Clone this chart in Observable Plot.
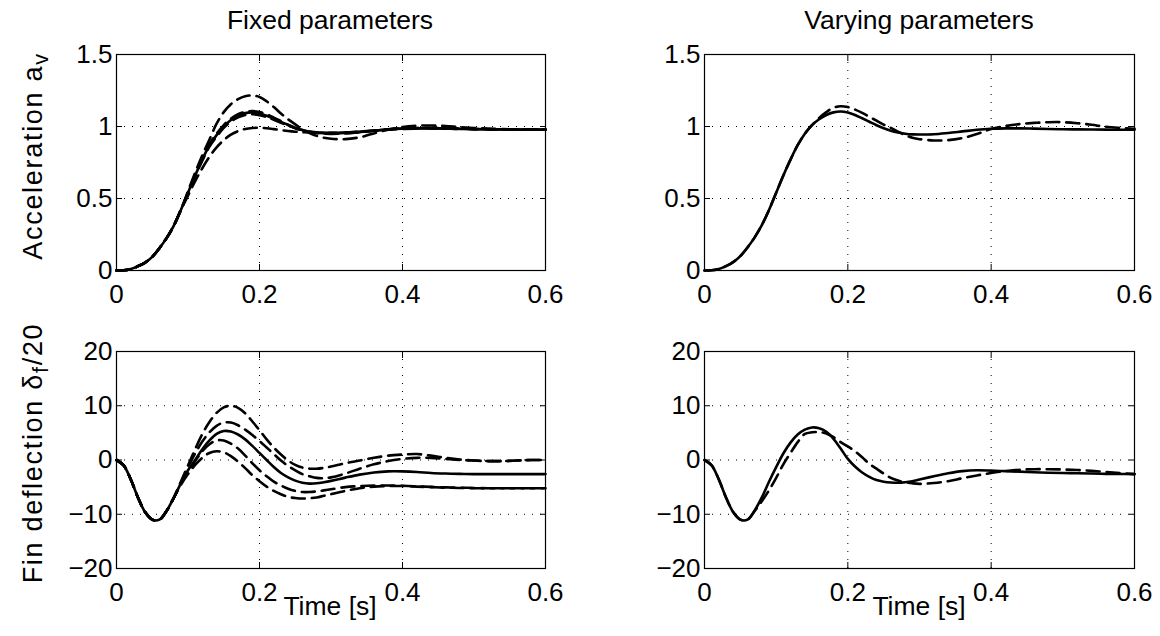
<!DOCTYPE html>
<html><head><meta charset="utf-8">
<script src="https://cdn.jsdelivr.net/npm/d3@7"></script>
<script src="https://cdn.jsdelivr.net/npm/@observablehq/plot@0.6"></script>
<style>
body{margin:0;background:#fff;}
#fig{position:relative;width:1160px;height:636px;overflow:hidden;font-family:"Liberation Sans",Arial,Helvetica,sans-serif;color:#000;background:#fff;}
.panel{position:absolute;}
.t{position:absolute;font-size:26.5px;line-height:26px;white-space:nowrap;transform:translateX(-50%);}
.yl{position:absolute;font-size:27px;line-height:27px;letter-spacing:1.7px;white-space:nowrap;transform:translate(-50%,-50%) rotate(-90deg);}
.yl sub{font-size:0.8em;vertical-align:-0.3em;}
</style></head><body><div id="fig"></div>
<script>
// ---- data ----
const T = [0,0.01,0.02,0.03,0.04,0.05,0.06,0.07,0.08,0.09,0.10,0.11,0.12,0.13,0.14,0.15,0.16,0.17,0.18,0.19,0.20,0.21,0.22,0.23,0.24,0.25,0.26,0.27,0.28,0.29,0.30,0.32,0.34,0.36,0.38,0.40,0.42,0.44,0.46,0.48,0.50,0.52,0.54,0.56,0.58,0.60];

const xTicks = [0, 0.2, 0.4, 0.6];
const accTicks = [0, 0.5, 1, 1.5];
const deflTicks = [-20, -10, 0, 10, 20];

const colTitles = ["Fixed parameters", "Varying parameters"];
const xLabel = "Time [s]";

// acceleration, fixed parameters
const accFixedNom = [0,0.002,0.01,0.03,0.055,0.095,0.155,0.225,0.31,0.42, 0.54,0.66,0.77,0.87,0.94,1.0,1.045,1.075,1.093,1.098, 1.09,1.075,1.055,1.032,1.01,0.99,0.975,0.963,0.957,0.954, 0.953, 0.955,0.962,0.971,0.98,0.986,0.988,0.988,0.986,0.984,0.982,0.981,0.98,0.979,0.978,0.978];
const accFixedU = [0,0.002,0.01,0.03,0.055,0.095,0.155,0.225,0.31,0.42, 0.55,0.68,0.80,0.91,1.02,1.10,1.155,1.19,1.21,1.215, 1.205,1.175,1.135,1.09,1.05,1.015,0.98,0.955,0.935,0.922, 0.915, 0.912,0.925,0.952,0.978,0.996,1.005,1.007,1.003,0.996,0.99,0.985,0.982,0.98,0.979,0.978];
const accFixedM1 = [0,0.002,0.01,0.03,0.055,0.095,0.155,0.225,0.31,0.42, 0.543,0.663,0.775,0.878,0.95,1.01,1.055,1.085,1.102,1.107, 1.1,1.084,1.062,1.037,1.012,0.99,0.973,0.961,0.954,0.95, 0.949, 0.951,0.959,0.97,0.98,0.987,0.99,0.99,0.988,0.985,0.983,0.981,0.98,0.979,0.978,0.978];
const accFixedM2 = [0,0.002,0.01,0.03,0.055,0.095,0.155,0.225,0.31,0.42, 0.537,0.655,0.762,0.86,0.93,0.99,1.035,1.063,1.08,1.085, 1.079,1.065,1.047,1.026,1.006,0.988,0.975,0.965,0.96,0.957, 0.956, 0.958,0.963,0.971,0.979,0.984,0.987,0.987,0.985,0.983,0.982,0.98,0.979,0.978,0.978,0.978];
const accFixedL = [0,0.002,0.01,0.03,0.055,0.095,0.155,0.225,0.31,0.42, 0.52,0.62,0.71,0.79,0.855,0.905,0.943,0.968,0.983,0.99, 0.991,0.988,0.982,0.975,0.969,0.964,0.96,0.958,0.957,0.956, 0.956, 0.959,0.965,0.972,0.978,0.983,0.985,0.986,0.985,0.983,0.982,0.98,0.979,0.978,0.978,0.978];

// acceleration, varying parameters
const accVarNom = [0,0.002,0.01,0.03,0.058,0.1,0.16,0.23,0.315,0.42, 0.54,0.66,0.77,0.87,0.95,1.01,1.05,1.08,1.098,1.104, 1.097,1.08,1.057,1.033,1.009,0.988,0.97,0.958,0.95,0.945, 0.944, 0.946,0.955,0.966,0.977,0.984,0.987,0.987,0.985,0.983,0.981,0.98,0.979,0.978,0.977,0.977];
const accVarDash = [0,0.002,0.01,0.03,0.058,0.1,0.16,0.23,0.315,0.42, 0.54,0.66,0.77,0.87,0.95,1.01,1.06,1.10,1.13,1.141, 1.135,1.118,1.095,1.068,1.04,1.013,0.99,0.965,0.94,0.922, 0.912, 0.903,0.905,0.92,0.948,0.982,1.003,1.017,1.025,1.03,1.03,1.023,1.012,0.998,0.99,0.984];

// fin deflection, fixed parameters
const deflFixedNom = [0,-1.0,-3.6,-6.9,-9.6,-11.0,-11.0,-9.4,-7.0,-4.3, -1.9,0.0,2.0,3.6,4.8,5.35,5.25,4.7,3.8,2.6, 1.3,0.0,-1.3,-2.4,-3.2,-3.8,-4.2,-4.35,-4.3,-4.1, -3.85, -3.25,-2.7,-2.3,-2.1,-2.1,-2.2,-2.4,-2.5,-2.55,-2.6,-2.6,-2.6,-2.6,-2.6,-2.6];
const deflFixedD1 = [0,-1.0,-3.6,-6.9,-9.6,-11.0,-11.0,-9.4,-7.0,-4.0, -1.0,2.0,4.8,7.0,8.7,9.7,10.0,9.6,8.6,7.1, 5.5,3.8,2.3,1.0,-0.1,-0.9,-1.4,-1.6,-1.6,-1.45, -1.2, -0.6,-0.1,0.4,0.8,1.0,1.1,0.8,0.4,0.1,-0.1,-0.2,-0.2,-0.1,0.0,0.0];
const deflFixedD2 = [0,-1.0,-3.6,-6.9,-9.6,-11.0,-11.0,-9.4,-7.0,-4.2, -1.4,1.2,3.4,5.1,6.3,6.9,6.9,6.4,5.6,4.6, 3.5,2.3,1.1,-0.1,-1.1,-1.9,-2.6,-3.0,-3.3,-3.35, -3.2, -2.5,-1.6,-0.8,-0.2,0.2,0.4,0.4,0.2,0.0,-0.1,-0.2,-0.2,-0.1,0.0,0.0];
const deflFixedD3 = [0,-1.0,-3.6,-6.9,-9.6,-11.0,-11.0,-9.4,-7.0,-4.4, -2.2,-0.2,1.6,2.9,3.6,3.6,3.0,2.1,0.8,-0.6, -1.9,-3.0,-4.0,-4.7,-5.3,-5.7,-5.9,-5.9,-5.8,-5.6, -5.4, -5.0,-4.8,-4.7,-4.7,-4.75,-4.85,-4.95,-5.05,-5.1,-5.15,-5.2,-5.2,-5.2,-5.2,-5.2];
const deflFixedD4 = [0,-1.0,-3.6,-6.9,-9.6,-11.0,-11.0,-9.4,-7.0,-4.6, -2.6,-0.9,0.4,1.3,1.6,1.4,0.7,-0.3,-1.5,-2.8, -3.9,-4.9,-5.7,-6.3,-6.8,-7.0,-7.1,-7.05,-6.9,-6.6, -6.3, -5.7,-5.2,-4.9,-4.8,-4.8,-4.9,-5.0,-5.1,-5.15,-5.2,-5.2,-5.2,-5.2,-5.2,-5.2];

// fin deflection, varying parameters
const deflVarNom = [0,-1.0,-3.6,-6.9,-9.6,-11.0,-11.0,-9.3,-6.9,-4.0, -1.3,1.2,3.2,4.7,5.6,6.0,5.85,5.2,3.9,2.1, 0.2,-1.2,-2.3,-3.1,-3.7,-4.0,-4.15,-4.2,-4.1,-3.9, -3.6, -3.0,-2.45,-2.05,-1.9,-1.95,-2.05,-2.15,-2.25,-2.35,-2.4,-2.45,-2.5,-2.55,-2.58,-2.6];
const deflVarDash = [0,-1.0,-3.6,-6.9,-9.6,-11.0,-11.0,-9.4,-7.6,-5.6, -3.3,-0.8,1.3,3.3,4.8,5.1,5.15,4.9,4.2,3.3, 2.5,1.6,0.5,-0.7,-1.6,-2.5,-3.3,-3.8,-4.1,-4.3, -4.4, -4.25,-3.9,-3.35,-2.85,-2.4,-2.05,-1.8,-1.7,-1.7,-1.75,-1.85,-2.0,-2.2,-2.4,-2.6];

// ---- drawing ----
const fmt = d => d < 0 ? "\u2212" + Math.abs(d) : String(d);
const fig = document.getElementById("fig");

function rowsOf(list) {
  const rows = [];
  list.forEach(([name, arr]) => T.forEach((t, i) => rows.push({t, v: arr[i], s: name})));
  return rows;
}

function panel({left, top, w, h, fl, ft, fr, fb, yDomain, yTicks, solid, dashed}) {
  const solidRows = rowsOf(solid);
  const dashedRows = rowsOf(dashed);
  const p = Plot.plot({
    width: w, height: h,
    marginLeft: fl, marginTop: ft, marginRight: w - fr, marginBottom: h - fb,
    style: {fontFamily: "Liberation Sans, Arial, Helvetica, sans-serif", fontSize: "26px", background: "transparent", color: "black", overflow: "visible"},
    x: {domain: [0, 0.6], label: null},
    y: {domain: yDomain, label: null},
    marks: [
      Plot.gridX(xTicks, {stroke: "black", strokeOpacity: 1, strokeWidth: 1, strokeDasharray: "1,7"}),
      Plot.gridY(yTicks, {stroke: "black", strokeOpacity: 1, strokeWidth: 1, strokeDasharray: "1,7"}),
      Plot.line(dashedRows, {x: "t", y: "v", z: "s", stroke: "black", strokeWidth: 2.6, strokeDasharray: "13,7", curve: "catmull-rom"}),
      Plot.line(solidRows, {x: "t", y: "v", z: "s", stroke: "black", strokeWidth: 2.6, curve: "catmull-rom"}),
      Plot.frame({stroke: "black", strokeWidth: 1.2}),
      Plot.axisX({ticks: xTicks, tickFormat: fmt, tickSize: -6, tickPadding: 20, anchor: "bottom"}),
      Plot.axisX({ticks: xTicks, tickFormat: () => "", tickSize: -6, anchor: "top"}),
      Plot.axisY({ticks: yTicks, tickFormat: fmt, tickSize: -6, tickPadding: 10, anchor: "left"}),
      Plot.axisY({ticks: yTicks, tickFormat: () => "", tickSize: -6, anchor: "right"})
    ]
  });
  p.classList.add("panel");
  p.style.left = left + "px";
  p.style.top = top + "px";
  fig.appendChild(p);
}

panel({left: 0, top: 0, w: 580, h: 320, fl: 116, ft: 54, fr: 545, fb: 270, yDomain: [0, 1.5], yTicks: accTicks,
  solid: [["nom", accFixedNom]], dashed: [["u", accFixedU], ["m1", accFixedM1], ["m2", accFixedM2], ["l", accFixedL]]});
panel({left: 580, top: 0, w: 580, h: 320, fl: 124, ft: 54, fr: 554, fb: 270, yDomain: [0, 1.5], yTicks: accTicks,
  solid: [["nom", accVarNom]], dashed: [["d", accVarDash]]});
panel({left: 0, top: 320, w: 580, h: 316, fl: 116, ft: 31, fr: 545, fb: 248, yDomain: [-20, 20], yTicks: deflTicks,
  solid: [["nom", deflFixedNom]], dashed: [["d1", deflFixedD1], ["d2", deflFixedD2], ["d3", deflFixedD3], ["d4", deflFixedD4]]});
panel({left: 580, top: 320, w: 580, h: 316, fl: 124, ft: 31, fr: 554, fb: 248, yDomain: [-20, 20], yTicks: deflTicks,
  solid: [["nom", deflVarNom]], dashed: [["d", deflVarDash]]});

function addText(cls, html, x, y) {
  const d = document.createElement("div");
  d.className = cls;
  d.innerHTML = html;
  d.style.left = x + "px";
  d.style.top = y + "px";
  fig.appendChild(d);
}
addText("t", colTitles[0], 330, 7);
addText("t", colTitles[1], 919, 7);
addText("t", xLabel, 330, 593);
addText("t", xLabel, 919, 593);
addText("yl", "Acceleration a<sub>v</sub>", 37, 156);
addText("yl", "Fin deflection &delta;<sub>f</sub>/20", 37, 453);
</script>
</body></html>
